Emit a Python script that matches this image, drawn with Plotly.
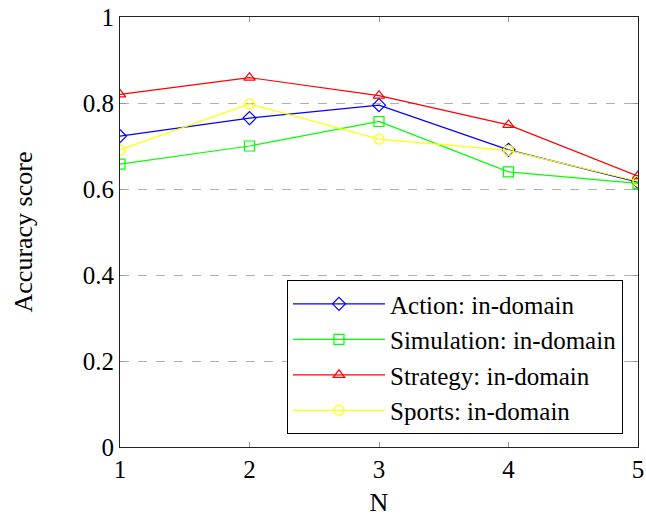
import plotly.graph_objects as go

N = [1, 2, 3, 4, 5]
action = [0.723, 0.765, 0.795, 0.691, 0.616]
simulation = [0.658, 0.700, 0.757, 0.640, 0.613]
strategy = [0.820, 0.859, 0.817, 0.749, 0.630]
sports = [0.691, 0.798, 0.716, 0.690, 0.618]

series = [
    ("Action: in-domain", action, "#0000ff", "diamond-open"),
    ("Simulation: in-domain", simulation, "#00ff00", "square-open"),
    ("Strategy: in-domain", strategy, "#ff0000", "triangle-up-open"),
    ("Sports: in-domain", sports, "#ffff00", "circle-open"),
]

FONT = "Liberation Serif"
fig = go.Figure()
for name, vals, col, sym in series:
    fig.add_trace(go.Scatter(
        x=N, y=vals, name=name, mode="lines+markers",
        line=dict(color=col, width=1.2),
        marker=dict(symbol=sym, size=10, color=col, line=dict(color=col, width=1.2)),
    ))

fig.update_layout(
    width=646, height=522,
    margin=dict(l=120, r=8, t=17, b=75, autoexpand=False),
    plot_bgcolor="white", paper_bgcolor="white",
    font=dict(family=FONT, size=25, color="black"),
    showlegend=True,
    legend=dict(
        x=0.971, y=0.03, xanchor="right", yanchor="bottom",
        bordercolor="black", borderwidth=1, bgcolor="white",
        font=dict(family=FONT, size=25, color="black"),
        tracegroupgap=0, itemwidth=92,
    ),
)
fig.update_xaxes(
    range=[1, 5], tickvals=N, ticktext=[str(v) for v in N],
    tickfont=dict(family=FONT, size=25, color="black"),
    ticklabeloverflow="allow", automargin=False,
    showgrid=False, zeroline=False,
    showline=True, linecolor="#222", linewidth=1.2, mirror="ticks",
    ticks="inside", ticklen=5, tickcolor="#999",
    title=dict(text="N", standoff=10, font=dict(family=FONT, size=26)),
)
fig.update_yaxes(
    range=[0, 1], tickvals=[0, 0.2, 0.4, 0.6, 0.8, 1],
    ticktext=["0", "0.2", "0.4", "0.6", "0.8", "1"],
    tickfont=dict(family=FONT, size=25, color="black"),
    ticklabeloverflow="allow", automargin=False,
    showgrid=True, gridcolor="#b0b0b0", griddash="dash", gridwidth=1,
    zeroline=False,
    showline=True, linecolor="#222", linewidth=1.2, mirror="ticks",
    ticks="inside", ticklen=5, tickcolor="#999",
    title=dict(text="Accuracy score", standoff=42, font=dict(family=FONT, size=26)),
)

# remove the browser's default 8px body margin so the figure fills the window
fig.write_html("out.html", config={"displayModeBar": False},
               post_script="document.body.style.margin='0';")
